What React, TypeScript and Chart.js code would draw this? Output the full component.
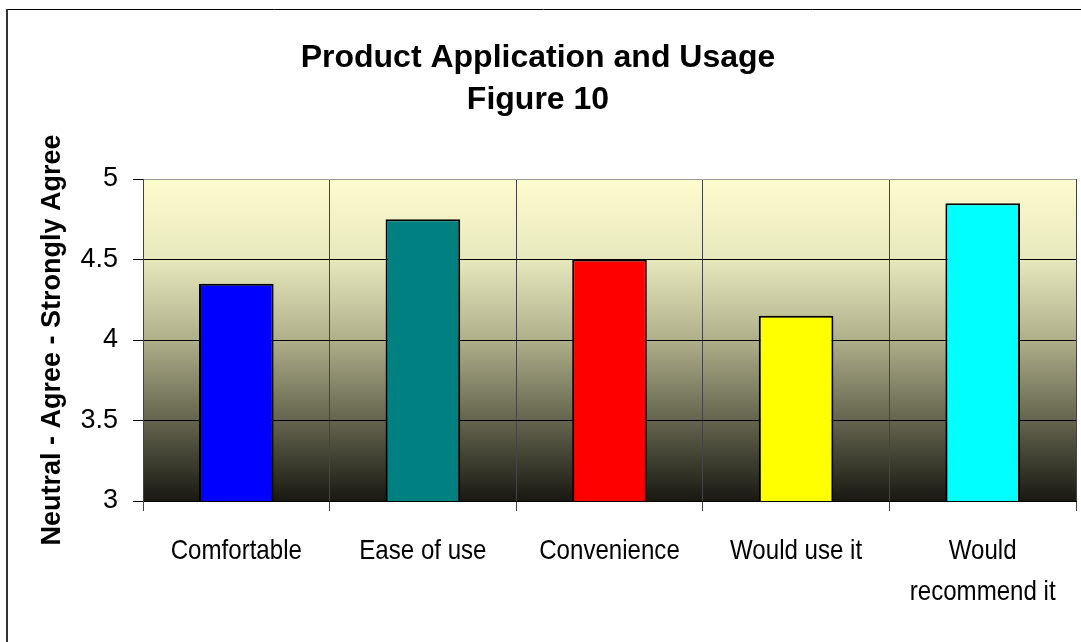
import React, { useEffect, useRef } from "react";
import { Chart, registerables } from "chart.js";

Chart.register(...registerables);

const categories: (string | string[])[] = [
  "Comfortable",
  "Ease of use",
  "Convenience",
  "Would use it",
  ["Would", "recommend it"],
];
const values = [4.35, 4.75, 4.5, 4.15, 4.85];
const barColors = ["#0000FF", "#008080", "#FF0000", "#FFFF00", "#00FFFF"];
const titleLines = ["Product Application and Usage", "Figure 10"];
const yAxisTitle = "Neutral - Agree - Strongly Agree";
const yMin = 3;
const yMax = 5;
const yStep = 0.5;

const NARROW = 0.86;

const backgroundPlugin = {
  id: "plotBackground",
  beforeDraw(chart: any) {
    const { ctx, chartArea } = chart;
    if (!chartArea) return;
    const { left, top, right, bottom } = chartArea;
    const g = ctx.createLinearGradient(0, top, 0, bottom);
    g.addColorStop(0, "rgb(252,252,206)");
    g.addColorStop(0.25, "rgb(232,232,190)");
    g.addColorStop(0.5, "rgb(175,175,138)");
    g.addColorStop(0.75, "rgb(100,100,78)");
    g.addColorStop(1, "rgb(25,25,18)");
    ctx.save();
    ctx.fillStyle = g;
    ctx.fillRect(left, top, right - left, bottom - top);
    ctx.restore();
  },
  afterDraw(chart: any) {
    const { ctx, width, height } = chart;
    ctx.save();
    ctx.strokeStyle = "#000";
    ctx.lineWidth = 1;
    ctx.beginPath();
    ctx.moveTo(6, 9.5);
    ctx.lineTo(width, 9.5);
    ctx.stroke();
    ctx.strokeStyle = "#333";
    ctx.lineWidth = 2;
    ctx.beginPath();
    ctx.moveTo(7, 9);
    ctx.lineTo(7, height);
    ctx.stroke();
    ctx.restore();
  },
};

function narrowLabels(this: any, chartArea: any) {
  const ctx = this.ctx;
  const items = this.getLabelItems(chartArea);
  for (const item of items) {
    const o = item.options;
    const font = item.font;
    const lines = Array.isArray(item.label) ? item.label : [item.label];
    ctx.save();
    ctx.translate(o.translation[0], o.translation[1]);
    ctx.scale(NARROW, 1);
    ctx.font = font.string;
    ctx.fillStyle = o.color;
    ctx.textAlign = o.textAlign;
    ctx.textBaseline = o.textBaseline;
    let y = item.textOffset;
    for (const line of lines) {
      ctx.fillText(String(line), 0, y);
      y += font.lineHeight;
    }
    ctx.restore();
  }
}

export default function App() {
  const canvasRef = useRef<HTMLCanvasElement | null>(null);

  useEffect(() => {
    document.body.style.margin = "0";
    const canvas = canvasRef.current;
    if (!canvas) return;
    const chart = new Chart(canvas, {
      type: "bar",
      data: {
        labels: categories as any,
        datasets: [
          {
            data: values,
            backgroundColor: barColors,
            borderColor: "#000",
            borderWidth: 2,
            borderSkipped: false,
            barPercentage: 0.4,
            categoryPercentage: 1,
          },
        ],
      },
      options: {
        animation: false,
        responsive: true,
        maintainAspectRatio: false,
        layout: { padding: { left: 0, right: 5, top: 0, bottom: 0 } },
        plugins: {
          legend: { display: false },
          tooltip: { enabled: false },
          title: {
            display: true,
            text: titleLines,
            color: "#000",
            font: { family: "'Liberation Sans', Arial, sans-serif", size: 32, weight: "bold", lineHeight: 42 / 32 },
            padding: { top: 37, bottom: 58 },
          },
        },
        scales: {
          x: {
            grid: {
              offset: true,
              color: "#444",
              lineWidth: 1,
              tickLength: 10,
              tickColor: "#444",
              drawOnChartArea: true,
            },
            border: { display: true, color: "#000", width: 1 },
            ticks: {
              color: "#000",
              padding: 20,
              maxRotation: 0,
              autoSkip: false,
              font: { family: "'Liberation Sans', Arial, sans-serif", size: 28, lineHeight: 41 / 28 },
            },
            afterFit(scale: any) {
              scale.height = 141;
              scale.paddingLeft = 0;
              scale.paddingRight = 0;
              scale.drawLabels = narrowLabels;
            },
          },
          y: {
            min: yMin,
            max: yMax,
            ticks: {
              stepSize: yStep,
              color: "#000",
              padding: 15,
              font: { family: "'Liberation Sans', Arial, sans-serif", size: 27 },
              callback: (v: any) => String(Number(v)),
            },
            grid: {
              color: (ctx: any) => (ctx.tick && ctx.tick.value === yMax ? "#999" : "#000"),
              lineWidth: 1,
              tickLength: 10,
              tickColor: "#000",
            },
            border: { display: true, color: "#444", width: 1 },
            title: {
              display: true,
              text: yAxisTitle,
              color: "#000",
              font: { family: "'Liberation Sans', Arial, sans-serif", size: 27, weight: "bold", lineHeight: 1.2 },
              padding: { top: 36, bottom: 0 },
            },
            afterFit(scale: any) {
              scale.width = 143;
            },
          },
        },
      },
      plugins: [backgroundPlugin],
    });
    return () => chart.destroy();
  }, []);

  return (
    <div style={{ width: 1081, height: 642, position: "relative", background: "#fff" }}>
      <canvas ref={canvasRef} />
    </div>
  );
}
